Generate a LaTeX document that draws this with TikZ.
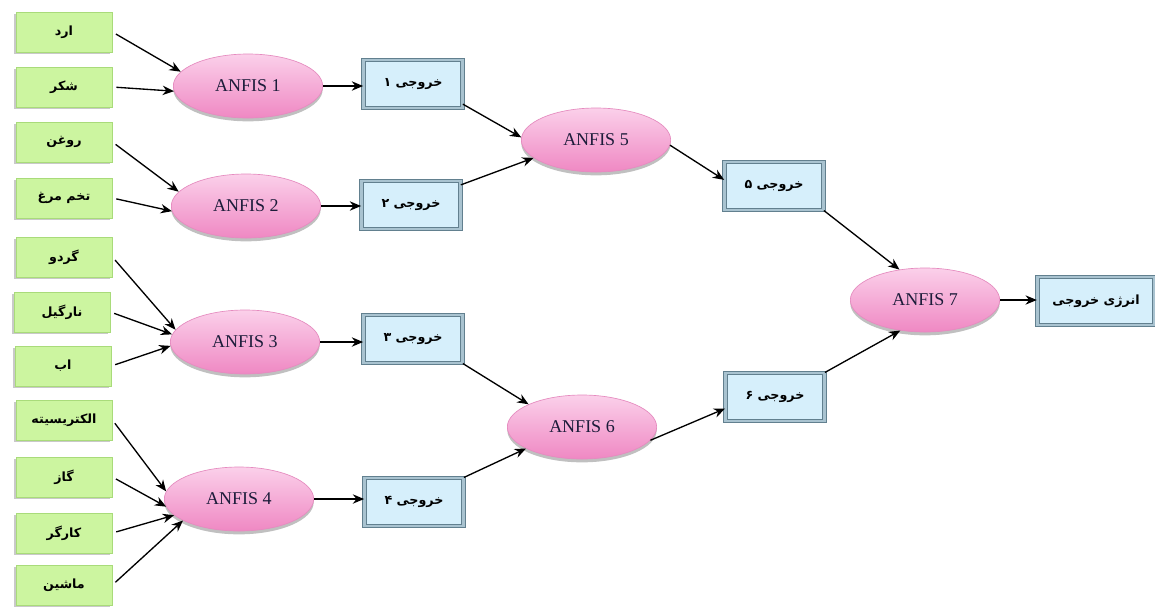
\documentclass[tikz,border=0pt]{standalone}
\usepackage{fontspec}
\setmainfont{Liberation Serif}
\newfontfamily\fa[Script=Arabic]{DejaVu Sans}
\TeXXeTstate=1
\usetikzlibrary{shapes.geometric,shadows,arrows.meta}
\definecolor{gfill}{HTML}{CCF5A0}
\definecolor{gdraw}{HTML}{A9DB7A}
\definecolor{bfill}{HTML}{D6EFFB}
\definecolor{bdraw}{HTML}{62808F}
\definecolor{bin}{HTML}{A9C3D0}
\definecolor{ptop}{HTML}{FBD0EA}
\definecolor{pbot}{HTML}{EF88C3}
\definecolor{pdraw}{HTML}{E58BBF}
\definecolor{atext}{HTML}{1C1C3A}
\begin{document}
\begin{tikzpicture}[x=0.75pt,y=-0.75pt,
  inbox/.style={rectangle, fill=gfill, draw=gdraw, line width=0.6pt,
    minimum width=72pt, minimum height=30pt, inner sep=0pt,
    drop shadow={shadow xshift=-1.5pt, shadow yshift=-1.5pt, opacity=0.35, fill=black!60},
    font=\fa\bfseries\fontsize{9.5}{10}\selectfont},
  anfis/.style={ellipse, minimum width=112pt, minimum height=48pt, inner sep=0pt,
    top color=ptop, bottom color=pbot, draw=pdraw, line width=0.5pt,
    drop shadow={shadow xshift=0pt, shadow yshift=-2.5pt, opacity=0.35, fill=black!70},
    text=atext, font=\fontsize{13.5}{15}\selectfont},
  outbox/.style={rectangle, fill=bfill, draw=bdraw, double=bin, double distance=1.8pt,
    line width=0.8pt, minimum width=74pt, minimum height=36pt, inner sep=0pt,
    font=\fa\bfseries\fontsize{9.5}{10}\selectfont},
  arr/.style={-{Stealth[length=8.5pt,width=7pt]}, line width=1pt, black}]
\useasboundingbox[fill=white] (0,0) rectangle (1155,608);

% inputs
\node[inbox] (i1)  at (64,32)  {\beginR ارد\endR};
\node[inbox] (i2)  at (64,87)  {\beginR شکر\endR};
\node[inbox] (i3)  at (64,142) {\beginR روغن\endR};
\node[inbox] (i4)  at (64,198) {\beginR تخم مرغ\endR};
\node[inbox] (i5)  at (64,257) {\beginR گردو\endR};
\node[inbox] (i6)  at (62,312) {\beginR نارگیل\endR};
\node[inbox] (i7)  at (63,366) {\beginR اب\endR};
\node[inbox] (i8)  at (64,420) {\beginR الکتریسیته\endR};
\node[inbox] (i9)  at (64,477) {\beginR گاز\endR};
\node[inbox] (i10) at (64,533) {\beginR کارگر\endR};
\node[inbox] (i11) at (64,585) {\beginR ماشین\endR};

% ANFIS
\node[anfis] (a1) at (248,86)  {ANFIS 1};
\node[anfis] (a2) at (246,206) {ANFIS 2};
\node[anfis] (a3) at (245,342) {ANFIS 3};
\node[anfis] (a4) at (239,499) {ANFIS 4};
\node[anfis] (a5) at (596,140) {ANFIS 5};
\node[anfis] (a6) at (582,427) {ANFIS 6};
\node[anfis] (a7) at (925,300) {ANFIS 7};

% outputs
\node[outbox] (k1) at (413,84)  {\beginR خروجی ۱\endR};
\node[outbox] (k2) at (411,205) {\beginR خروجی ۲\endR};
\node[outbox] (k3) at (413,339) {\beginR خروجی ۳\endR};
\node[outbox] (k4) at (414,502) {\beginR خروجی ۴\endR};
\node[outbox] (k5) at (774,186) {\beginR خروجی ۵\endR};
\node[outbox] (k6) at (775,397) {\beginR خروجی ۶\endR};
\node[outbox, minimum width=88pt] (en) at (1096,301) {\beginR انرژی خروجی\endR};

% connectors
\begin{scope}[shorten <=3pt]
\draw[arr] (i1.east) -- (a1.168);
\draw[arr] (i2.east) -- (a1.184);
\draw[arr] (i3.east) -- (a2.168);
\draw[arr] (i4.east) -- (a2.184);
\draw[arr] (i5.east) -- (a3.170);
\draw[arr] (i6.east) -- (a3.174);
\draw[arr] (i7.east) -- (a3.183);
\draw[arr] (i8.east) -- (a4.174);
\draw[arr] (i9.east) -- (a4.186);
\draw[arr] (i10.east) -- (a4.194);
\draw[arr] (i11.east) -- (a4.201);
\end{scope}

\draw[arr] (a1.east) -- (a1.east -| k1.west);
\draw[arr] (a2.east) -- (a2.east -| k2.west);
\draw[arr] (a3.east) -- (a3.east -| k3.west);
\draw[arr] (a4.east) -- (a4.east -| k4.west);

\draw[arr] (k1.-22) -- (a5.178);
\draw[arr] (k2.22) -- (a5.196);
\draw[arr] (k3.south east) -- (a6.157);
\draw[arr] (k4.north east) -- (a6.201);

\draw[arr] (a5.-4) -- (k5.173);
\draw[arr] (a6.-11) -- (k6.193);

\draw[arr] (k5.south east) -- (a7.130);
\draw[arr] (k6.north east) -- (a7.231);
\draw[arr] (a7.east) -- (a7.east -| en.west);
\end{tikzpicture}
\end{document}
